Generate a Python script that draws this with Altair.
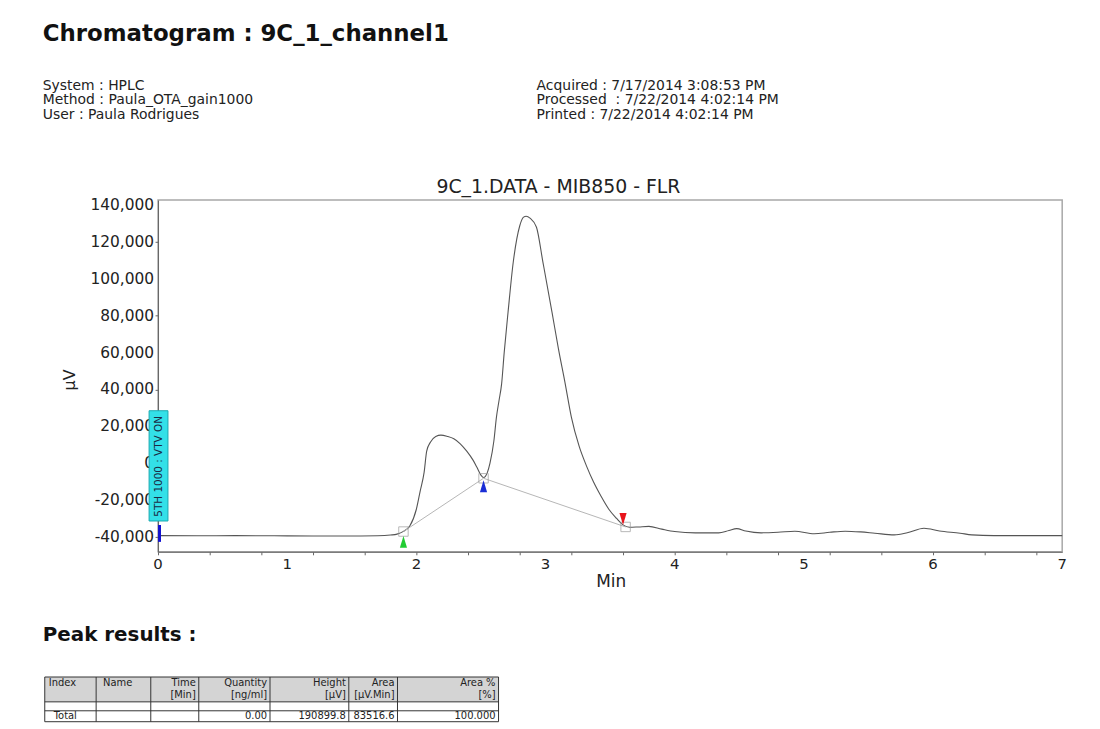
import altair as alt
import pandas as pd

# ---------------- data ----------------
time_min = [0.00, 0.30, 0.60, 0.90, 1.20, 1.50, 1.70, 1.80, 1.85, 1.90, 1.95, 2.00, 2.03,
            2.06, 2.08, 2.11, 2.15, 2.19, 2.24, 2.29, 2.34, 2.39, 2.44, 2.47, 2.50, 2.52,
            2.55, 2.57, 2.60, 2.62, 2.64, 2.66, 2.68, 2.71, 2.75, 2.80, 2.83, 2.85, 2.88,
            2.93, 2.98, 3.05, 3.10, 3.15, 3.20, 3.26, 3.32, 3.37, 3.43, 3.49, 3.55, 3.60,
            3.65, 3.72, 3.80, 3.90, 4.00, 4.16, 4.34, 4.42, 4.48, 4.55, 4.67, 4.80, 4.93,
            5.08, 5.20, 5.32, 5.44, 5.55, 5.70, 5.80, 5.93, 6.05, 6.21, 6.30, 6.47, 6.70, 7.00]
signal_uv = [-39300, -39400, -39300, -39400, -39500, -39500, -39400, -39000, -38500, -37000,
             -34000, -25000, -15000, -5000, 6500, 11500, 14500, 15200, 14500, 13200, 10500,
             6500, 1500, -2400, -6500, -7800, -5000, 0, 12000, 25000, 34000, 43000, 60000,
             82000, 109000, 128700, 133500, 134000, 133000, 128000, 109000, 82000, 62000,
             44000, 25000, 9200, -2000, -10000, -18000, -25000, -30000, -33500, -34800,
             -34600, -34300, -35800, -37100, -37800, -37800, -36500, -35500, -36800, -37800,
             -37500, -36900, -38300, -37500, -36900, -37300, -38000, -38900, -37800, -35300,
             -36800, -38000, -38900, -39300, -39300, -39300]

base_times = [1.90, 2.52, 3.62]
base_uv = [-37100, -8200, -34600]

marker_times = [1.90, 2.52, 3.60]
marker_uv = [-42700, -12500, -30300]
marker_kind = ["start", "valley", "end"]

event_time = [0.0]
event_label = ["5TH 1000 : VTV ON"]

y_ticks = [-40000, -20000, 0, 20000, 40000, 60000, 80000, 100000, 120000, 140000]
y_tick_labels = ["-40,000", "-20,000", "0", "20,000", "40,000", "60,000", "80,000",
                 "100,000", "120,000", "140,000"]
x_ticks = [0, 1, 2, 3, 4, 5, 6, 7]
x_tick_labels = ["0", "1", "2", "3", "4", "5", "6", "7"]
x_minor_ticks = [round(i * 0.2, 1) for i in range(36)]

report_title = "Chromatogram : 9C_1_channel1"
info_left = ["System : HPLC", "Method : Paula_OTA_gain1000", "User : Paula Rodrigues"]
info_right = ["Acquired : 7/17/2014 3:08:53 PM", "Processed\u00a0 : 7/22/2014 4:02:14 PM",
              "Printed : 7/22/2014 4:02:14 PM"]
chart_title = "9C_1.DATA - MIB850 - FLR"
y_title = "\u00b5V"
x_title = "Min"
table_title = "Peak results :"
table_head1 = ["Index", "Name", "Time", "Quantity", "Height", "Area", "Area %"]
table_head2 = ["", "", "[Min]", "[ng/ml]", "[\u00b5V]", "[\u00b5V.Min]", "[%]"]
table_total = ["Total", "", "", "0.00", "190899.8", "83516.6", "100.000"]

# ---------------- layout ----------------
W, H = 910, 354
FONT = "DejaVu Sans"
Y_DOMAIN = [-48100, 142750]
COL_EDGES = [-114, -62.3, -7.3, 41, 112.7, 192, 241, 342.7]
COL_ALIGN = ["left", "left", "right", "right", "right", "right", "right"]
ROW_LINES = [480, 505, 514, 525]

xs = alt.Scale(domain=[0, 7], nice=False, zero=False)
ys = alt.Scale(domain=Y_DOMAIN, nice=False, zero=False)

curve_df = pd.DataFrame({"t": time_min, "v": signal_uv})
base_df = pd.DataFrame({"t": base_times, "v": base_uv})
mark_df = pd.DataFrame({"t": marker_times, "v": marker_uv, "k": marker_kind})
event_df = pd.DataFrame({"t": event_time, "lab": event_label})
ylab_df = pd.DataFrame({"v": y_ticks, "s": y_tick_labels})
xlab_df = pd.DataFrame({"t": x_ticks, "s": x_tick_labels})

curve = alt.Chart(curve_df).mark_line(color="#555555", strokeWidth=1.1, interpolate="monotone").encode(
    x=alt.X("t:Q", scale=xs, axis=alt.Axis(values=x_minor_ticks, labels=False, title=None, tickSize=3)),
    y=alt.Y("v:Q", scale=ys, axis=alt.Axis(values=y_ticks, labels=False, title=None, tickSize=3)),
)

ylabels = alt.Chart(ylab_df).mark_text(font=FONT, fontSize=15.5, align="right", baseline="middle",
                                       color="#222222").encode(
    x=alt.value(-4), y=alt.Y("v:Q", scale=ys), text="s:N")
xlabels = alt.Chart(xlab_df).mark_text(font=FONT, fontSize=15, align="center", baseline="top",
                                       color="#222222").encode(
    x=alt.X("t:Q", scale=xs), y=alt.value(H + 5), text="s:N")

baseline = alt.Chart(base_df).mark_line(color="#b5b5b5", strokeWidth=1).encode(
    x=alt.X("t:Q", scale=xs), y=alt.Y("v:Q", scale=ys))
squares = alt.Chart(base_df).mark_point(shape="square", filled=False, size=90, color="#9a9a9a",
                                        strokeWidth=1).encode(
    x=alt.X("t:Q", scale=xs), y=alt.Y("v:Q", scale=ys))

up = "M0,-1L0.6,1L-0.6,1Z"
down = "M0,1L0.6,-1L-0.6,-1Z"
markers = alt.Chart(mark_df).mark_point(filled=True, size=144, opacity=1, strokeWidth=0).encode(
    x=alt.X("t:Q", scale=xs), y=alt.Y("v:Q", scale=ys),
    color=alt.Color("k:N", scale=alt.Scale(domain=marker_kind, range=["#22cc33", "#1a2ed6", "#e8141c"]),
                    legend=None),
    shape=alt.Shape("k:N", scale=alt.Scale(domain=marker_kind, range=[up, up, down]), legend=None),
)

inj = alt.Chart(event_df).mark_rule(color="#1212d0", strokeWidth=3, xOffset=1.5).encode(
    x=alt.X("t:Q", scale=xs), y=alt.value(327), y2=alt.value(344))
box = alt.Chart(event_df).mark_rect(color="#33e0e8", stroke="#1aa9b0", strokeWidth=1).encode(
    x=alt.value(-9), x2=alt.value(10), y=alt.value(212), y2=alt.value(323))
box_text = alt.Chart(event_df).mark_text(font=FONT, fontSize=10.5, angle=270, color="#1a2a44",
                                         align="center", baseline="middle", xOffset=1).encode(
    x=alt.X("t:Q", scale=xs), y=alt.value(268), text="lab:N")


def label(text, x, y, size, bold=False, align="left", baseline="alphabetic", angle=0, color="#111111"):
    kw = dict(font=FONT, fontSize=size, align=align, baseline=baseline, color=color)
    if bold:
        kw["fontWeight"] = "bold"
    if angle:
        kw["angle"] = angle
    return alt.Chart(pd.DataFrame({"s": [text]})).mark_text(**kw).encode(
        x=alt.value(x), y=alt.value(y), text="s:N")


texts = [label(report_title, -116, -160, 23, bold=True)]
for i, s in enumerate(info_left):
    texts.append(label(s, -116, -111 + i * 14.5, 14, color="#222222"))
for i, s in enumerate(info_right):
    texts.append(label(s, 381, -111 + i * 14.5, 14, color="#222222"))
texts.append(label(chart_title, 403, -7, 19, align="center", color="#222222"))
texts.append(label(y_title, -89, 181, 16, align="center", baseline="middle", angle=270, color="#222222"))
texts.append(label(x_title, 456, 384, 17, align="center", baseline="middle", color="#222222"))
texts.append(label(table_title, -116, 444, 20, bold=True))

# table grid
hlines = pd.DataFrame({"x": [COL_EDGES[0]] * len(ROW_LINES), "x2": [COL_EDGES[-1]] * len(ROW_LINES),
                       "y": ROW_LINES, "y2": ROW_LINES})
vlines = pd.DataFrame({"x": COL_EDGES, "x2": COL_EDGES, "y": [ROW_LINES[0]] * len(COL_EDGES),
                       "y2": [ROW_LINES[-1]] * len(COL_EDGES)})
head_bg = alt.Chart(pd.DataFrame({"x": [COL_EDGES[0]], "x2": [COL_EDGES[-1]], "y": [ROW_LINES[0]],
                                  "y2": [ROW_LINES[1]]})).mark_rect(color="#d4d4d4").encode(
    x=alt.X("x:Q", scale=None), x2="x2:Q", y=alt.Y("y:Q", scale=None), y2="y2:Q")
grid_h = alt.Chart(hlines).mark_rule(color="#333333", strokeWidth=1).encode(
    x=alt.X("x:Q", scale=None), x2="x2:Q", y=alt.Y("y:Q", scale=None), y2="y2:Q")
grid_v = alt.Chart(vlines).mark_rule(color="#333333", strokeWidth=1).encode(
    x=alt.X("x:Q", scale=None), x2="x2:Q", y=alt.Y("y:Q", scale=None), y2="y2:Q")

cells = []
for c in range(7):
    left, right = COL_EDGES[c], COL_EDGES[c + 1]
    a = COL_ALIGN[c]
    xpos = (left + (4 if c == 0 else 7)) if a == "left" else right - 3
    for txt, yy in ((table_head1[c], 486), (table_head2[c], 498)):
        if txt:
            cells.append(label(txt, xpos, yy, 10, align=a, baseline="middle", color="#222222"))
    if table_total[c]:
        xt = left + 9 if a == "left" else right - 3
        cells.append(label(table_total[c], xt, 519.5, 10, align=a, baseline="middle", color="#222222"))

chart = alt.layer(
    curve, ylabels, xlabels, baseline, squares, markers, inj, box, box_text,
    head_bg, grid_h, grid_v, *texts, *cells
).properties(
    width=W, height=H,
    autosize=alt.AutoSizeParams(type="none"),
    padding={"left": 151, "top": 191, "right": 30, "bottom": 175},
    background="white",
).configure_view(
    stroke="#a8a8a8", strokeWidth=1.5
).configure_axis(
    grid=False, tickColor="#666666", domainColor="#666666",
)

chart.save("out.html", embed_options={"renderer": "svg", "actions": False})
